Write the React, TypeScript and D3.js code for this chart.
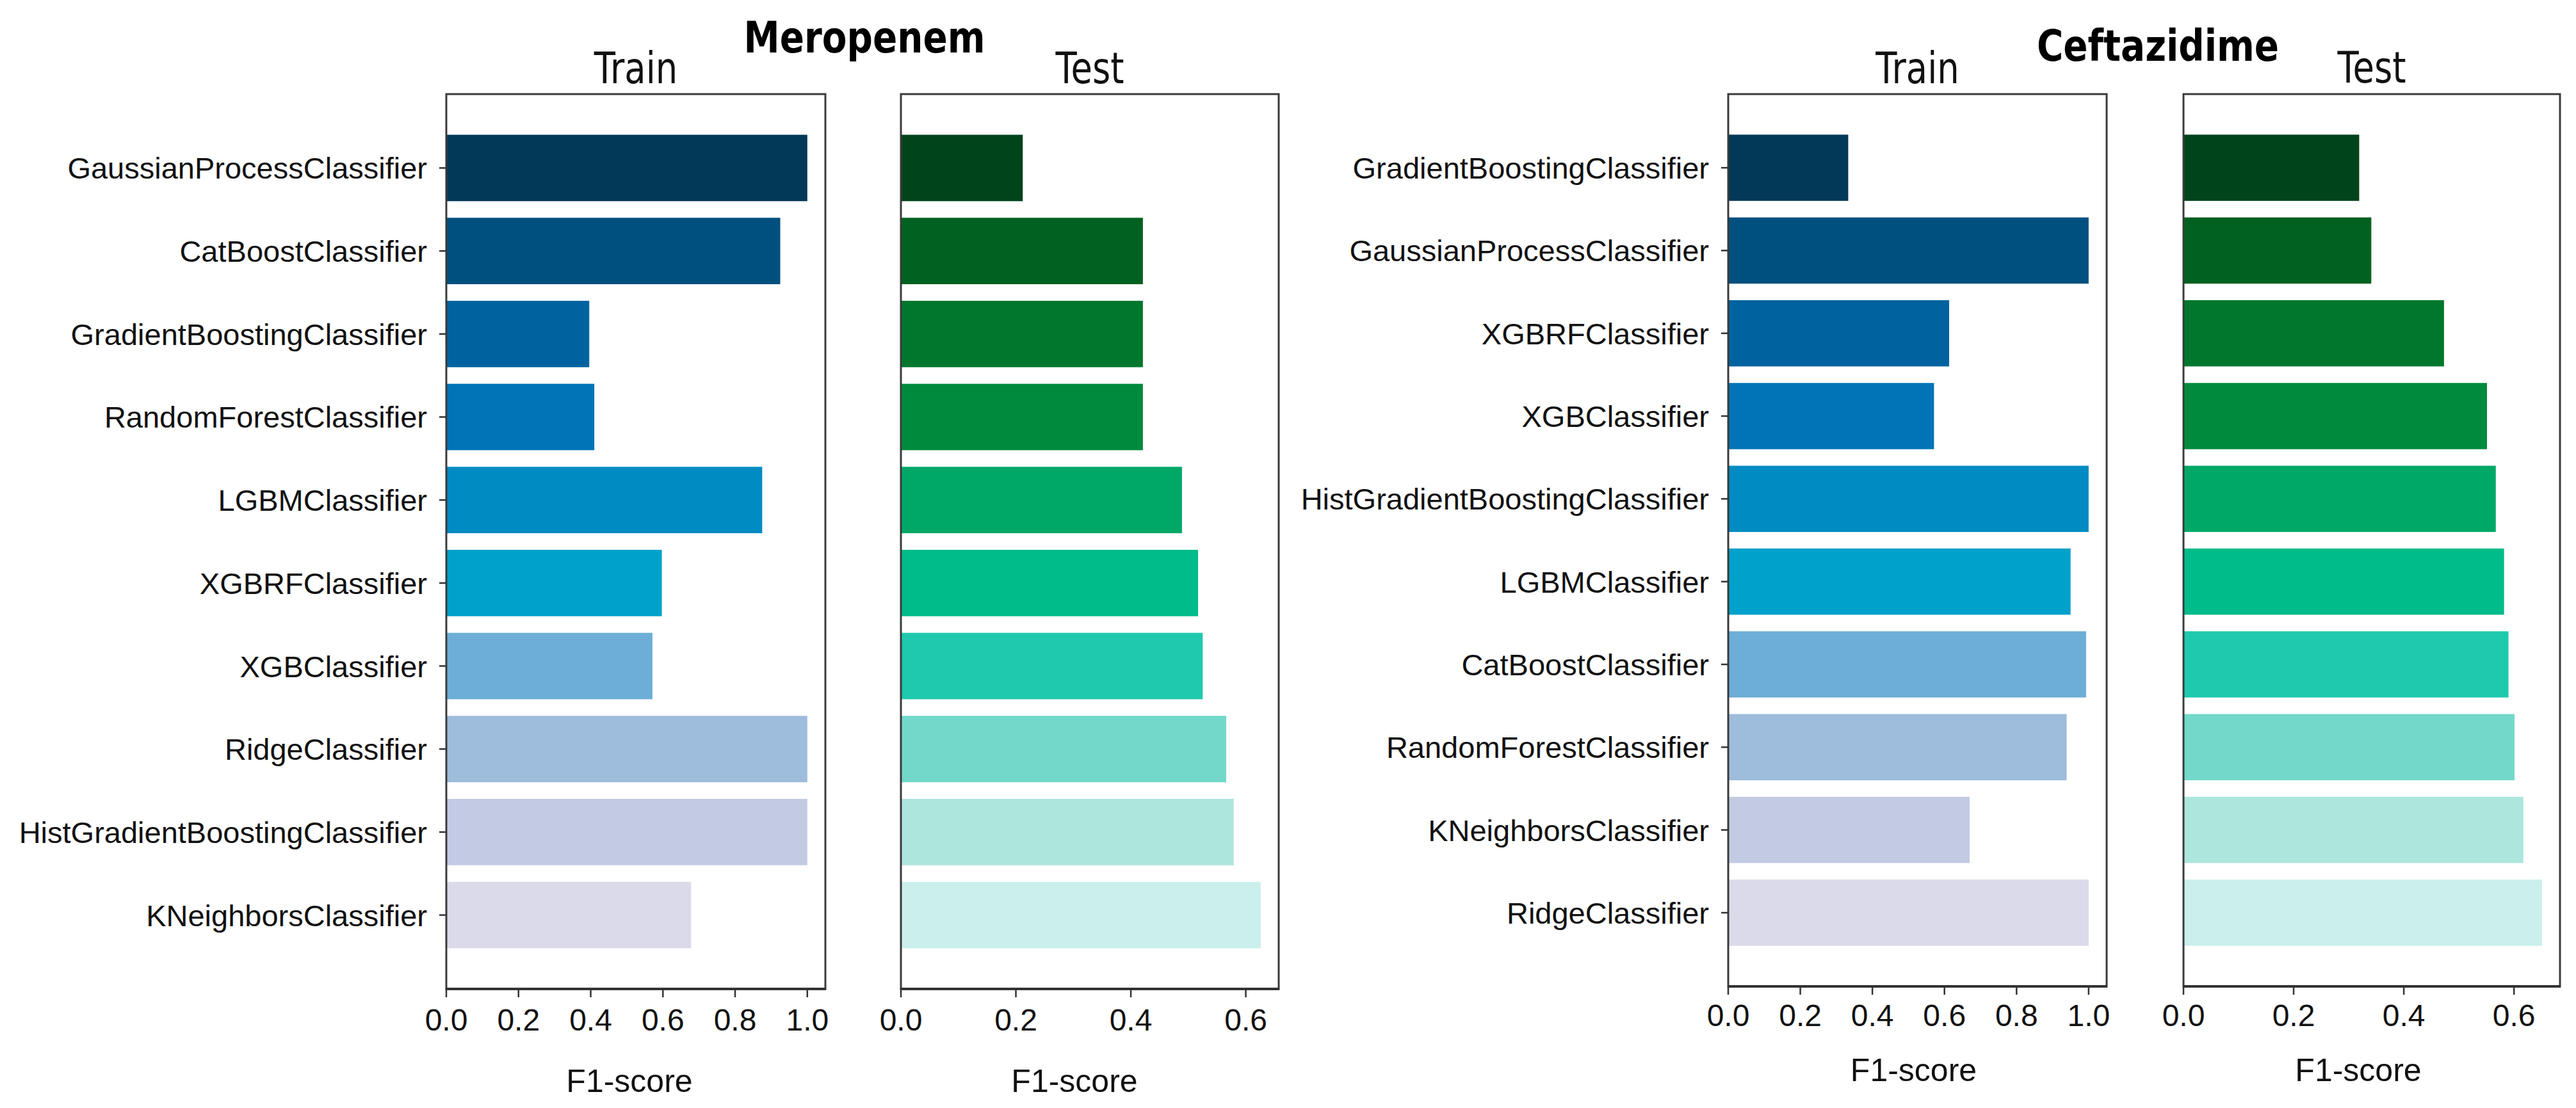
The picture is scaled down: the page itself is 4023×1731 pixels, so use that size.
import React from "react";
import * as d3 from "d3";

// ---------- data ----------
const meroModels = [
  "GaussianProcessClassifier",
  "CatBoostClassifier",
  "GradientBoostingClassifier",
  "RandomForestClassifier",
  "LGBMClassifier",
  "XGBRFClassifier",
  "XGBClassifier",
  "RidgeClassifier",
  "HistGradientBoostingClassifier",
  "KNeighborsClassifier",
];
const meroTrain = [1.0, 0.925, 0.396, 0.41, 0.875, 0.597, 0.571, 1.0, 1.0, 0.678];
const meroTest = [0.212, 0.421, 0.421, 0.421, 0.489, 0.517, 0.525, 0.566, 0.579, 0.626];

const ceftModels = [
  "GradientBoostingClassifier",
  "GaussianProcessClassifier",
  "XGBRFClassifier",
  "XGBClassifier",
  "HistGradientBoostingClassifier",
  "LGBMClassifier",
  "CatBoostClassifier",
  "RandomForestClassifier",
  "KNeighborsClassifier",
  "RidgeClassifier",
];
const ceftTrain = [0.333, 1.0, 0.613, 0.571, 1.0, 0.95, 0.993, 0.939, 0.67, 1.0];
const ceftTest = [0.319, 0.341, 0.473, 0.551, 0.567, 0.582, 0.59, 0.601, 0.617, 0.651];

const trainTicks = [0, 0.2, 0.4, 0.6, 0.8, 1.0];
const testTicks = [0, 0.2, 0.4, 0.6];

const trainColors = ["#023858", "#00507f", "#00639f", "#0074b7", "#008bc2", "#00a1cb", "#6caed6", "#9ebcdb", "#c3cbe4", "#dadaeb"];
const testColors = ["#00441b", "#006120", "#00772d", "#008a3e", "#00a867", "#00bb8a", "#1fc9ad", "#72d9ca", "#ace6dd", "#cbefec"];

const groupTitles = ["Meropenem", "Ceftazidime"];

// ---------- layout ----------
const W = 4023;
const H = 1731;
const SANS = "'Liberation Sans', Arial, Helvetica, sans-serif";
const DEJAVU = "'DejaVu Sans', sans-serif";

type Panel = {
  models: string[];
  values: number[];
  colors: string[];
  ticks: number[];
  x0: number;
  x1: number;
  top: number;
  bottom: number;
  tickBase: number;
  labelBase: number;
  labelShift: number;
  showY: boolean;
  title: string;
  titleBase: number;
};

const panels: Panel[] = [
  { models: meroModels, values: meroTrain, colors: trainColors, ticks: trainTicks, x0: 697, x1: 1289, top: 147, bottom: 1545, tickBase: 1610, labelBase: 1706, labelShift: -10, showY: true, title: "Train", titleBase: 130 },
  { models: meroModels, values: meroTest, colors: testColors, ticks: testTicks, x0: 1407, x1: 1997, top: 147, bottom: 1545, tickBase: 1610, labelBase: 1706, labelShift: -24, showY: false, title: "Test", titleBase: 130 },
  { models: ceftModels, values: ceftTrain, colors: trainColors, ticks: trainTicks, x0: 2699, x1: 3290, top: 147, bottom: 1541, tickBase: 1603, labelBase: 1689, labelShift: -6, showY: true, title: "Train", titleBase: 130 },
  { models: ceftModels, values: ceftTest, colors: testColors, ticks: testTicks, x0: 3410, x1: 3998, top: 147, bottom: 1541, tickBase: 1603, labelBase: 1689, labelShift: -21, showY: false, title: "Test", titleBase: 129 },
];

const groupTitlePos = [
  { x: 1350, y: 82 },
  { x: 3370, y: 95 },
];

function PanelView({ p }: { p: Panel }) {
  const maxV = d3.max(p.values) as number;
  const x = d3.scaleLinear().domain([0, maxV * 1.05]).range([p.x0, p.x1]);
  const y = d3
    .scaleBand<string>()
    .domain(p.models)
    .range([p.top, p.bottom])
    .paddingInner(0.2)
    .paddingOuter(0.49);
  const bw = y.bandwidth();
  const cx = (p.x0 + p.x1) / 2;
  return (
    <g>
      {p.models.map((m, i) => (
        <rect
          key={m}
          x={x(0)}
          y={y(m)}
          width={x(p.values[i]) - x(0)}
          height={bw}
          fill={p.colors[i]}
        />
      ))}
      <rect
        x={p.x0}
        y={p.top}
        width={p.x1 - p.x0}
        height={p.bottom - p.top}
        fill="none"
        stroke="#3a3a3a"
        strokeWidth={3}
      />
      <line x1={p.x0 - 1} x2={p.x1 + 1} y1={p.bottom} y2={p.bottom} stroke="#333" strokeWidth={4} />
      {p.showY &&
        p.models.map((m) => {
          const yc = (y(m) as number) + bw / 2;
          return (
            <g key={"yl" + m}>
              <line x1={p.x0 - 11} x2={p.x0} y1={yc} y2={yc} stroke="#333" strokeWidth={2.5} />
              <text
                x={p.x0 - 30}
                y={yc + 17}
                textAnchor="end"
                fontFamily={SANS}
                fontSize={47}
                fill="#111"
              >
                {m}
              </text>
            </g>
          );
        })}
      {p.ticks.map((t) => (
        <g key={"xt" + t}>
          <line x1={x(t)} x2={x(t)} y1={p.bottom} y2={p.bottom + 13} stroke="#333" strokeWidth={2.5} />
          <text
            x={x(t)}
            y={p.tickBase}
            textAnchor="middle"
            fontFamily={SANS}
            fontSize={48}
            fill="#111"
          >
            {d3.format(".1f")(t)}
          </text>
        </g>
      ))}
      <text
        x={cx + p.labelShift}
        y={p.labelBase}
        textAnchor="middle"
        fontFamily={SANS}
        fontSize={50}
        fill="#111"
      >
        F1-score
      </text>
      <text
        transform={`translate(${cx},${p.titleBase}) scale(0.8,1)`}
        textAnchor="middle"
        fontFamily={DEJAVU}
        fontSize={68}
        fill="#111"
      >
        {p.title}
      </text>
    </g>
  );
}

export default function App() {
  return (
    <svg
      width={W}
      height={H}
      viewBox={`0 0 ${W} ${H}`}
      style={{ position: "absolute", left: 0, top: 0, background: "#fff" }}
    >
      <rect x={0} y={0} width={W} height={H} fill="#fff" />
      {panels.map((p, i) => (
        <PanelView key={i} p={p} />
      ))}
      {groupTitles.map((t, i) => (
        <text
          key={t}
          transform={`translate(${groupTitlePos[i].x},${groupTitlePos[i].y}) scale(0.83,1)`}
          textAnchor="middle"
          fontFamily={DEJAVU}
          fontWeight="bold"
          fontSize={68}
          fill="#000"
        >
          {t}
        </text>
      ))}
    </svg>
  );
}
